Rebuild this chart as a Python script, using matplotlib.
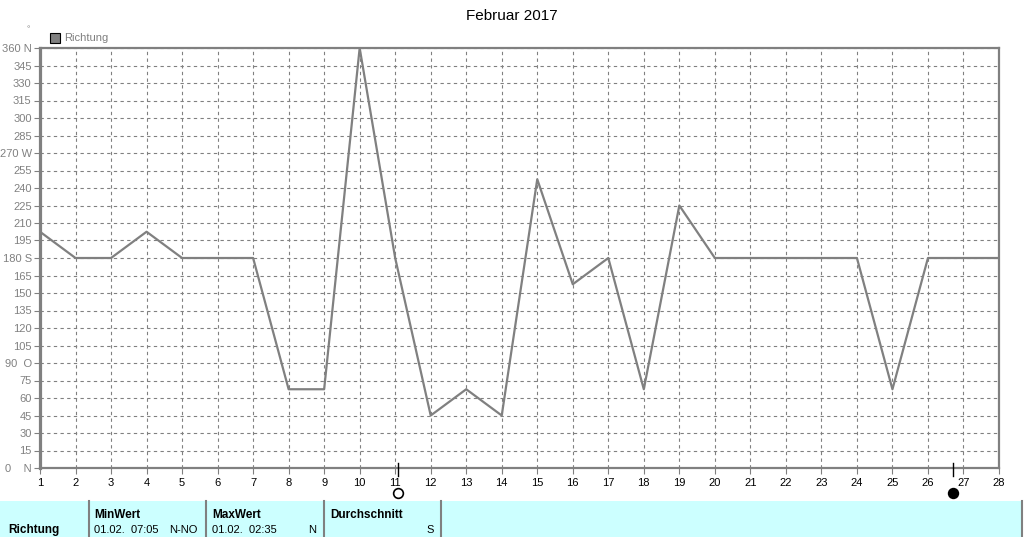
import matplotlib
matplotlib.use('Agg')
import matplotlib.pyplot as plt
from matplotlib.patches import Rectangle

# data
days = list(range(1, 29))
richtung = [202.5, 180, 180, 202.5, 180, 180, 180, 67.5, 67.5, 360,
            180, 45, 67.5, 45, 247.5, 157.5, 180, 67.5, 225, 180,
            180, 180, 180, 180, 67.5, 180, 180, 180]
yticks = list(range(0, 361, 15))
ylabels = {0: '0    N', 90: '90  O', 180: '180 S', 270: '270 W', 360: '360 N'}
moon_days = [11.08, 26.7]
moon_filled = [False, True]

W, H = 1024, 537
fig = plt.figure(figsize=(W / 100, H / 100), dpi=100)
plt.rcParams['font.family'] = ['Liberation Sans', 'DejaVu Sans']

ax = fig.add_axes([40 / W, 1 - 468 / H, (999 - 40) / W, (468 - 48) / H])
ax.plot(days, richtung, color='#808080', lw=1.6, zorder=3)
ax.set_xlim(1, 28)
ax.set_ylim(0, 360)
ax.set_xticks(days)
ax.set_xticklabels([str(d) for d in days], fontsize=8, color='black')
ax.set_yticks(yticks)
ax.set_yticklabels([ylabels.get(v, str(v)) for v in yticks], fontsize=8, color='#808080')
ax.tick_params(axis='both', length=4, color='#808080', pad=2)
ax.tick_params(axis='x', pad=3)
ax.grid(True, ls=(0, (3, 3)), color='#808080', lw=0.8)
for s in ax.spines.values():
    s.set_color('#808080')
    s.set_linewidth(1.6)
ax.spines['left'].set_linewidth(2.3)

# moon phase markers
for d, filled in zip(moon_days, moon_filled):
    ax.plot([d, d], [-7, 4], color='black', lw=1, clip_on=False, zorder=4)
    ax.plot(d, -21, 'o', ms=7, mfc='black' if filled else 'white', mec='black',
            mew=1.2, clip_on=False)

fig.text(0.5, 1 - 16 / H, 'Februar 2017', ha='center', va='center', fontsize=11)
fig.text(28 / W, 1 - 30 / H, '°', ha='center', va='center', fontsize=6, color='#808080')
fig.patches.append(Rectangle((50 / W, 1 - 43 / H), 10 / W, 10 / H, transform=fig.transFigure,
                             fc='#808080', ec='black', lw=0.8))
fig.text(64 / W, 1 - 38 / H, 'Richtung', va='center', fontsize=8, color='#808080')

# summary strip
fig.patches.append(Rectangle((0, 0), 1022 / W, 36 / H, transform=fig.transFigure,
                             fc='#ccffff', ec='none'))
for xs in [89, 206, 324, 441, 1022]:
    fig.add_artist(plt.Line2D([xs / W, xs / W], [0, 36 / H], color='#808080', lw=1.5))
fig.text(8 / W, 1 - 530 / H, 'Richtung', va='center', fontsize=8.5, fontweight='bold')
cols = [(94, 198, 'MinWert', '01.02.  07:05', 'N-NO'),
        (212, 316, 'MaxWert', '01.02.  02:35', 'N'),
        (330, 434, 'Durchschnitt', '', 'S')]
for x0, x1, head, when, val in cols:
    fig.text(x0 / W, 1 - 515 / H, head, va='center', fontsize=8.5, fontweight='bold')
    fig.text(x0 / W, 1 - 530 / H, when, va='center', fontsize=8)
    fig.text(x1 / W, 1 - 530 / H, val, va='center', ha='right', fontsize=8)

fig.savefig('out.png', dpi=100)
